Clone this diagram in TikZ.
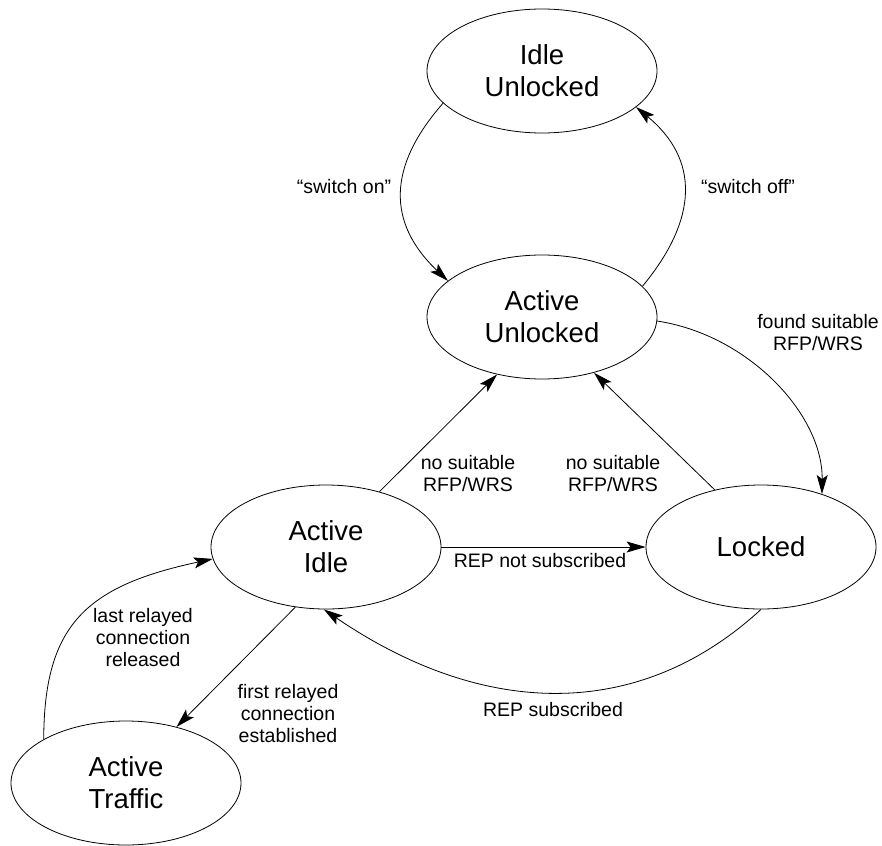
\documentclass[tikz,border=0pt]{standalone}
\usepackage{fontspec}
\setmainfont{Liberation Sans}
\usetikzlibrary{arrows.meta,shapes.geometric}
\begin{document}
\begin{tikzpicture}[x=1pt,y=-1pt,
  state/.style={draw,ellipse,minimum width=230pt,minimum height=124pt,inner sep=0pt,align=center,font=\fontsize{27.5}{32}\selectfont,line width=0.8pt},
  lbl/.style={align=center,font=\fontsize{19.5}{22}\selectfont,inner sep=0pt},
  tr/.style={line width=0.8pt,-{Stealth[length=19pt,width=11pt,inset=4pt]}}]
\useasboundingbox (0,0) rectangle (882,845);
\node[state] (iu) at (542,71) {Idle\\Unlocked};
\node[state] (au) at (542,317) {Active\\Unlocked};
\node[state] (ai) at (326,547) {Active\\Idle};
\node[state] (lk) at (761,547) {Locked};
\node[state] (at) at (126,783) {Active\\Traffic};

\draw[tr] (iu.198) .. controls (387,167) and (387,223) .. (au.159);
\draw[tr] (au.17.6) .. controls (699,218) and (699,159) .. (iu.339);
\draw[tr] (au.-2) .. controls (749,335) and (823,415) .. (lk.41.6);
\draw[tr] (ai.46.6) -- (au.232);
\draw[tr] (lk.129.7) -- (au.313.4);
\draw[tr] (ai.0) -- (lk.180);
\draw[tr] (lk.270) .. controls (641,720) and (486,720) .. (ai.268);
\draw[tr] (ai.243) -- (at.48);
\draw[tr] (at.152) .. controls (44,625) and (86,586) .. (ai.186);

\node[lbl] (l1) at (344,187) {“switch on”};
\node[lbl] (l2) at (748,187) {“switch off”};
\node[lbl] (l3) at (818,333) {found suitable\\RFP/WRS};
\node[lbl] (l4) at (468,474) {no suitable\\RFP/WRS};
\node[lbl] (l5) at (613,474) {no suitable\\RFP/WRS};
\node[lbl] (l6) at (540,561) {REP not subscribed};
\node[lbl] (l7) at (553,710) {REP subscribed};
\node[lbl] (l8) at (143,638) {last relayed\\connection\\released};
\node[lbl] (l9) at (288,714) {first relayed\\connection\\established};
\end{tikzpicture}
\end{document}
